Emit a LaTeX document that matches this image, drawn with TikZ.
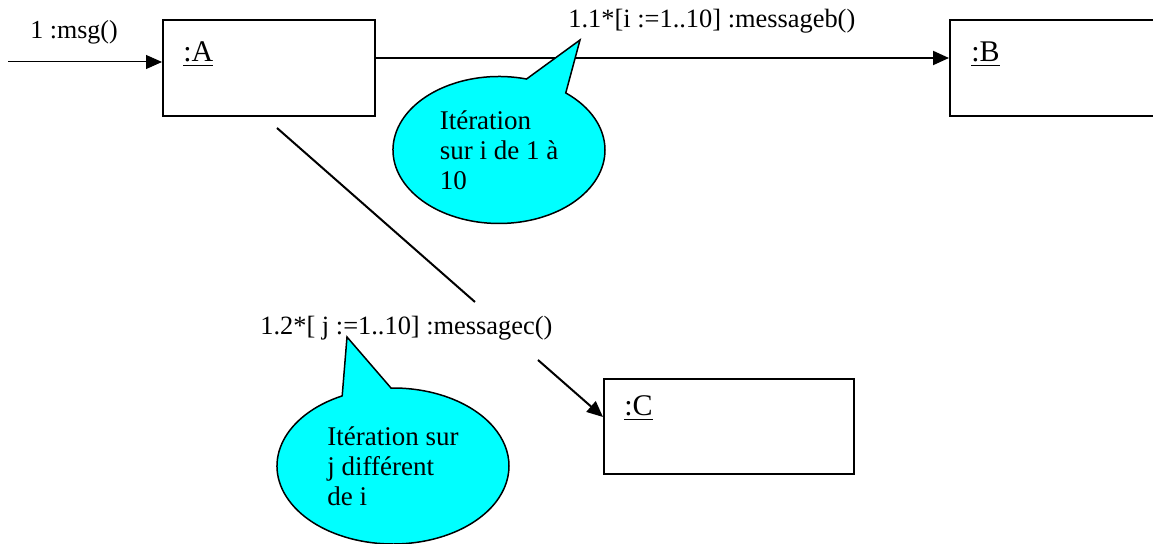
\documentclass[tikz,border=0pt]{standalone}
\usepackage{fontspec}
\setmainfont{Liberation Serif}
\usetikzlibrary{arrows.meta,shapes.callouts,calc}
\definecolor{aqua}{RGB}{0,255,255}
\begin{document}
\begin{tikzpicture}[x=0.5pt,y=-0.5pt,
  every node/.style={font=\fontsize{13.2}{15}\selectfont},
  obj/.style={draw,line width=1pt,rectangle,inner sep=0pt},
  lbl/.style={anchor=base west,inner sep=0pt},
  objlbl/.style={lbl,font=\fontsize{15}{18}\selectfont},
  msg/.style={line width=0.5pt,-{Triangle[length=8pt,width=7pt]}},
  note/.style={ellipse callout,draw,line width=0.75pt,fill=aqua,align=left,inner sep=0pt,
    font=\fontsize{13.5}{15}\selectfont}]
\useasboundingbox (0,0) rectangle (1153,544);
\clip (0,0) rectangle (1153,544);
% objects
\node[obj,minimum width=106pt,minimum height=48pt] (A) at (269,68) {};
\node[obj,minimum width=115pt,minimum height=48pt] (B) at (1065,68) {};
\node[obj,minimum width=125pt,minimum height=47.5pt] (C) at (729,426.5) {};
\node[objlbl] (Al) at (183,62) {\underline{:A}};
\node[objlbl] (Bl) at (971,62) {\underline{:B}};
\node[objlbl] (Cl) at (624,416) {\underline{:C}};
% incoming message
\coordinate (in) at (8,62);
\draw[msg] (in) -- (in -| A.west);
\node[lbl,font=\fontsize{13}{15}\selectfont] (m1) at (30,39) {1 :msg()};
% A to B
\draw[msg,line width=1pt] ([yshift=5pt]A.east) -- ([yshift=5pt]B.west);
\node[lbl] (m11) at (568,28) {1.1*[i :=1..10] :messageb()};
% A to C
\coordinate (d1) at (277,128);
\coordinate (d2) at (475,302);
\coordinate (d3) at (538,360);
\draw[line width=1pt] (d1) -- (d2);
\draw[msg,line width=1pt] (d3) -- ([yshift=4.75pt]C.west);
\node[lbl] (m12) at (260,335) {1.2*[ j :=1..10] :messagec()};
% notes
\node[note,minimum width=106pt,minimum height=73.5pt,callout pointer arc=24,
  callout absolute pointer={(580,40)}] (n1) at (499,150)
  {Itération\\sur i de 1 à\\10};
\node[note,minimum width=116pt,minimum height=78pt,callout pointer arc=25,
  callout absolute pointer={(347,337)}] (n2) at (393,466)
  {Itération sur\\j différent\\de i};
\end{tikzpicture}
\end{document}
